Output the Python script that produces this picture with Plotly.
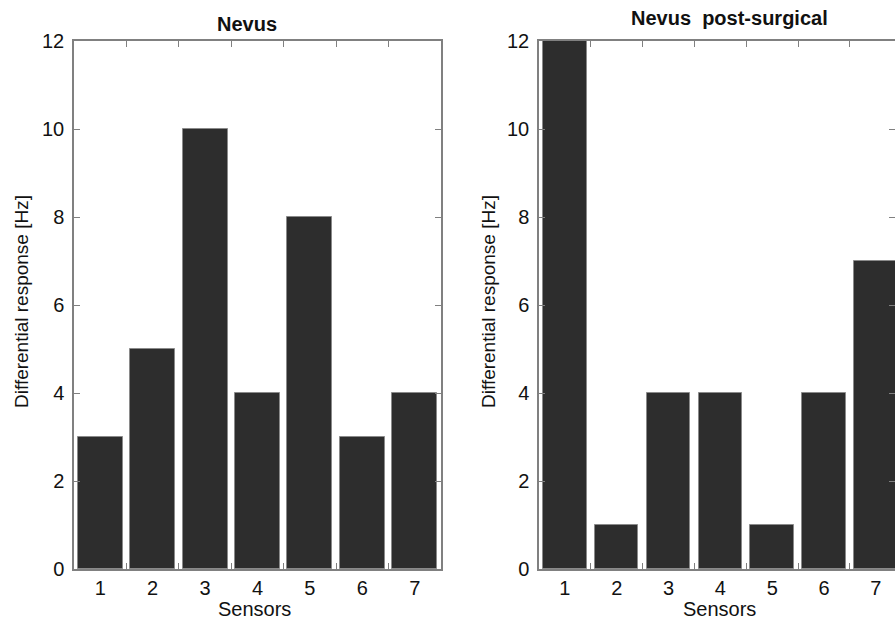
import plotly.graph_objects as go

sensors = [1, 2, 3, 4, 5, 6, 7]
nevus = [3, 5, 10, 4, 8, 3, 4]
post_surgical = [12, 1, 4, 4, 1, 4, 7]
y_ticks = [0, 2, 4, 6, 8, 10, 12]
boundary_ticks = [1.5, 2.5, 3.5, 4.5, 5.5, 6.5]

FONT = "Liberation Sans, Arial, Helvetica, sans-serif"
BAR = "#2d2d2d"
AX = "#808080"
TXT = "#111111"
W, H = 895, 622

fig = go.Figure()
fig.add_trace(go.Bar(x=sensors, y=nevus, width=0.86, marker=dict(color=BAR, line=dict(color="#8a8a8a", width=1)),
                     xaxis="x", yaxis="y", showlegend=False))
fig.add_trace(go.Bar(x=sensors, y=post_surgical, width=0.84, marker=dict(color=BAR, line=dict(color="#8a8a8a", width=1)),
                     xaxis="x2", yaxis="y2", showlegend=False))

common_x = dict(showline=True, linecolor=AX, linewidth=1.5, mirror="ticks", ticks="", automargin=False,
                tickvals=sensors, ticktext=[str(s) for s in sensors], showgrid=False, zeroline=False,
                minor=dict(tickvals=boundary_ticks, ticks="inside", ticklen=6, tickcolor=AX, tickwidth=1.2, showgrid=False),
                tickfont=dict(family=FONT, size=20, color=TXT))
common_y = dict(range=[0, 12], tickvals=y_ticks, showline=True, linecolor=AX, linewidth=1.5, mirror="ticks",
                ticks="inside", ticklen=6, tickcolor=AX, tickwidth=1.2, showgrid=False, zeroline=False, automargin=False,
                tickfont=dict(family=FONT, size=20, color=TXT), ticklabelstandoff=4)

d1 = [74 / W, 441 / W]
d2 = [539 / W, 1.0]
yd = [(H - 569) / H, (H - 41) / H]


def ann(text, px, py, size, angle=0):
    return dict(text=text, x=px / W, y=(H - py) / H, xref="paper", yref="paper", showarrow=False,
                xanchor="center", yanchor="middle", textangle=angle, borderpad=0,
                font=dict(family=FONT, size=size, color=TXT))


fig.update_layout(
    width=W, height=H, margin=dict(l=0, r=0, t=0, b=0),
    paper_bgcolor="white", plot_bgcolor="white", bargap=0,
    xaxis=dict(domain=d1, range=[0.5, 7.5], anchor="y", **common_x),
    yaxis=dict(domain=yd, anchor="x", **common_y),
    xaxis2=dict(domain=d2, range=[0.5, 7.37], anchor="y2", **common_x),
    yaxis2=dict(domain=yd, anchor="x2", **common_y),
    annotations=[
        ann("<b>Nevus</b>", 247, 24, 20),
        ann("<b>Nevus  post-surgical</b>", 729, 18, 20),
        ann("Sensors", 255, 609, 20),
        ann("Sensors", 719, 609, 20),
        ann("Differential response [Hz]", 21, 302, 19, -90),
        ann("Differential response [Hz]", 488, 302, 19, -90),
    ],
)

fig.write_html("out.html", config={"displayModeBar": False}, post_script="document.body.style.margin='0';")
